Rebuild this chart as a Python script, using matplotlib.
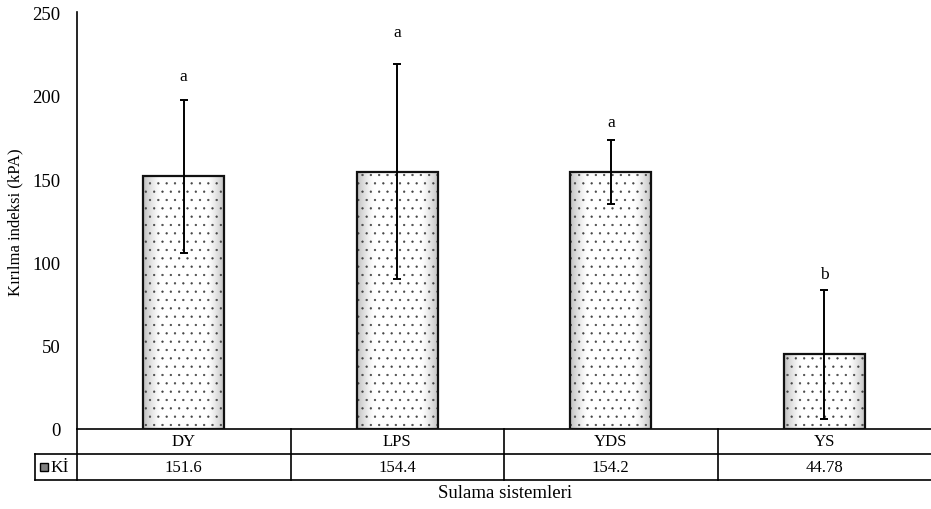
import numpy as np
import matplotlib
matplotlib.use("Agg")
import matplotlib.pyplot as plt
from matplotlib.transforms import blended_transform_factory
from matplotlib.patches import Rectangle

plt.rcParams['font.family'] = ['Liberation Serif', 'DejaVu Serif']
plt.rcParams['hatch.linewidth'] = 0.4

categories = ["DY", "LPS", "YDS", "YS"]
values = [151.6, 154.4, 154.2, 44.78]
errors = [46.0, 64.5, 19.2, 38.5]
letters = ["a", "a", "a", "b"]
letter_y = [212, 238, 184, 93]
value_labels = ["151.6", "154.4", "154.2", "44.78"]
series_name = "Kİ"
yticks = [0, 50, 100, 150, 200, 250]

W, H = 931, 510
fig = plt.figure(figsize=(W / 100, H / 100), dpi=100)
ax = fig.add_axes([77 / W, 1 - 430 / H, 854 / W, (430 - 13.4) / H])

x = np.arange(len(categories))
bar_w = 0.38
# hatch layer (grey dots)
ax.bar(x, values, width=bar_w, facecolor='none', edgecolor='#444444',
       linewidth=0.01, hatch='..', zorder=3)
# outline layer
bars = ax.bar(x, values, width=bar_w, facecolor='none', edgecolor='#111111',
              linewidth=1.6, zorder=3.5)

# gradient fill inside bars
n = 64
gx = np.linspace(-1, 1, n)
GX, GY = np.meshgrid(gx, gx)
d = np.maximum(np.abs(GX), np.abs(GY) * 0.6)
shade = 1 - 0.25 * np.clip((d - 0.55) / 0.45, 0, 1) ** 1.5
for b in bars:
    x0, y0, w, h = b.get_x(), b.get_y(), b.get_width(), b.get_height()
    im = ax.imshow(shade, cmap='gray', vmin=0, vmax=1, extent=(x0, x0 + w, y0, y0 + h),
                   aspect='auto', zorder=2, interpolation='bilinear')
    im.set_clip_path(Rectangle((x0, y0), w, h, transform=ax.transData))

ax.errorbar(x, values, yerr=errors, fmt='none', ecolor='black', elinewidth=1.4,
            capsize=3, capthick=1.4, zorder=4)

for xi, t, ly in zip(x, letters, letter_y):
    ax.text(xi, ly, t, ha='center', va='center', fontsize=12.5)

ax.set_xlim(-0.5, len(categories) - 0.5)
ax.set_ylim(0, 250)
ax.set_yticks(yticks)
ax.tick_params(axis='y', length=0, pad=12, labelsize=13.5)
ax.set_xticks([])
for s in ['top', 'right']:
    ax.spines[s].set_visible(False)
for s in ['left', 'bottom']:
    ax.spines[s].set_linewidth(1.2)
    ax.spines[s].set_color('black')

ax.set_ylabel("Kırılma indeksi (kPA)", fontsize=12, labelpad=6)

# data table
tr = blended_transform_factory(ax.transData, fig.transFigure)
def fy(py):
    return 1 - py / H

lw = 1.2
r1_top, r1_bot, r2_bot = 430, 455, 481
left_leg = -0.5 - 42 / 213.5
right = len(categories) - 0.5
for yy, xl in [(r1_bot, left_leg), (r2_bot, left_leg)]:
    ax.plot([xl, right], [fy(yy), fy(yy)], transform=tr, color='black', lw=lw,
            clip_on=False, solid_capstyle='projecting')
for i in range(len(categories)):
    xb = i - 0.5
    ax.plot([xb, xb], [fy(r1_top), fy(r2_bot)], transform=tr, color='black', lw=lw,
            clip_on=False)
ax.plot([left_leg, left_leg], [fy(r1_bot), fy(r2_bot)], transform=tr, color='black',
        lw=lw, clip_on=False)

for xi, c, v in zip(x, categories, value_labels):
    ax.text(xi, fy((r1_top + r1_bot) / 2), c, transform=tr, ha='center', va='center',
            fontsize=12)
    ax.text(xi, fy((r1_bot + r2_bot) / 2), v, transform=tr, ha='center', va='center',
            fontsize=12)

# legend key
fig.add_artist(Rectangle((40 / W, fy(472)), 8 / W, 8 / H, transform=fig.transFigure,
                         facecolor='#808080', edgecolor='black', lw=1.0))
fig.text(50 / W, fy(468), series_name, ha='left', va='center', fontsize=12.5)

fig.text(505 / W, fy(494), "Sulama sistemleri", ha='center', va='center', fontsize=13.5)

fig.savefig("out.png", dpi=100)
